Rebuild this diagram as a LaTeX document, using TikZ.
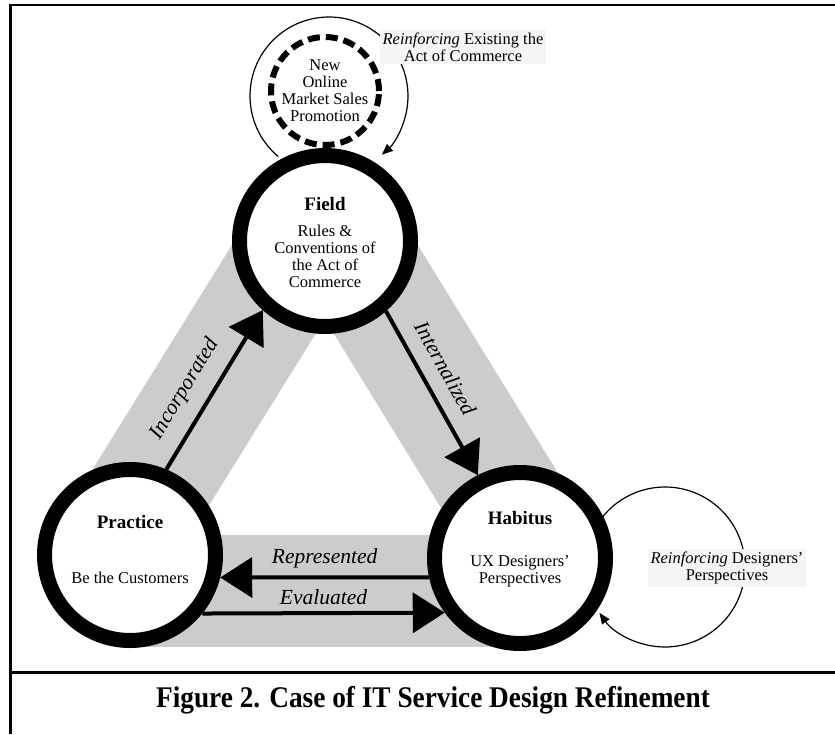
\documentclass[tikz,border=0pt]{standalone}
\usepackage{fontspec}
\setmainfont{Liberation Serif}
\usetikzlibrary{arrows.meta,calc}
\tikzset{>=Stealth}
\definecolor{bandgray}{RGB}{204,204,204}
\definecolor{tagbg}{RGB}{243,246,243}
\tikzset{
  concept/.style={circle,draw,line width=15pt,fill=white,minimum size=171pt,inner sep=0pt},
  ctitle/.style={font=\fontsize{19}{20}\selectfont\bfseries},
  cbody/.style={align=center,font=\fontsize{16.5}{17}\selectfont},
  band/.style={bandgray,line width=112pt},
  flow/.style={line width=4pt,-{Triangle[length=32pt,width=40pt]}},
  tag/.style={font=\fontsize{21.5}{23}\selectfont\itshape},
  loopline/.style={line width=1.2pt,-{Triangle[length=11pt,width=9pt]}},
  note/.style={fill=tagbg,align=center,inner sep=3pt,font=\fontsize{16.5}{17}\selectfont}
}

\begin{document}
\begin{tikzpicture}[x=1pt,y=-1pt]
\useasboundingbox (0,0) rectangle (835,734);
% frame
\draw[line width=3pt] (10,4) -- (10,734);
\draw[line width=2pt] (9,5) -- (835,5);
\draw[line width=3pt] (10,672) -- (835,672);
\coordinate (F) at (325,241);
\coordinate (P) at (130,555);
\coordinate (H) at (520,558);
% gray bands between the three circles
\draw[band,line width=118pt] (114.7,545.5) -- (309.7,231.5);
\draw[band,line width=118pt] (340.3,231.6) -- (535.3,548.6);
\draw[band] (130,591) -- (520,591);
% reinforcing loops
\coordinate (fieldloop) at (329,96);
\coordinate (habitusloop) at (665,567);
\draw[loopline] ([shift={(-230:79)}]fieldloop) arc[start angle=-230,end angle=48,radius=79];
\draw[loopline] ([shift={(-145:80)}]habitusloop) arc[start angle=-145,end angle=145,radius=80];
\node[circle,draw,line width=6pt,dash pattern=on 12pt off 6pt,minimum size=108pt] (promo) at (325,91) {};
\node[cbody] (promotxt) at (promo) {New\\Online\\Market Sales\\Promotion};
% the three concepts
\node[concept] (field) at (F) {};
\node[ctitle] (fieldtitle) at ($(F)+(0,-37)$) {Field};
\node[cbody] (fieldbody) at ($(F)+(0,15)$) {Rules \&\\Conventions of\\the Act of\\Commerce};
\node[concept] (practice) at (P) {};
\node[ctitle] (practicetitle) at ($(P)+(0,-33)$) {Practice};
\node[cbody] (practicebody) at ($(P)+(0,23)$) {Be the Customers};
\node[concept] (habitus) at (H) {};
\node[ctitle] (habitustitle) at ($(H)+(0,-40)$) {Habitus};
\node[cbody] (habitusbody) at ($(H)+(0,13)$) {UX Designers'\\Perspectives};
% flows
\draw[flow] (practice.67) -- node[tag,sloped,above=11pt,pos=0.42] (incorp) {Incorporated} (field.228);
\draw[flow] (field.-49) -- node[tag,sloped,above=11pt,pos=0.42] (intern) {Internalized} (habitus.117);
\draw[flow] (habitus.192) -- node[tag,above=4pt] (repr) {Represented} (practice.-14);
\draw[flow] (practice.-39) -- node[tag,above=3pt] (eval) {Evaluated} (habitus.216.5);
\node[note] (fieldnote) at (463,47) {\textit{Reinforcing} Existing the\\Act of Commerce};
\node[note] (habitusnote) at (727,568) {\textit{Reinforcing} Designers'\\Perspectives};
\node[font=\fontsize{30}{32}\selectfont\bfseries,xscale=0.91] (caption) at (433,700)
  {Figure 2. Case of IT Service Design Refinement};
\end{tikzpicture}
\end{document}
